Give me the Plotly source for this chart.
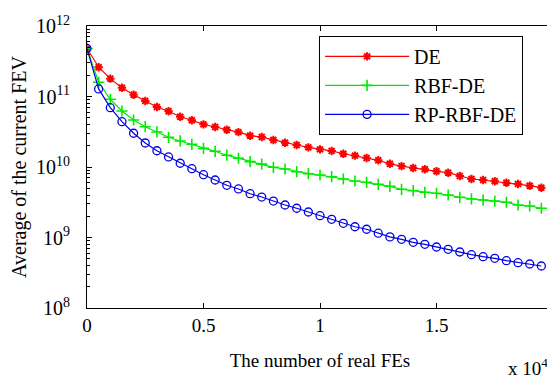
import plotly.graph_objects as go

fes = [i * 500 for i in range(40)]

de = [4.8e11, 2.60e11, 1.79e11, 1.33e11, 1.06e11, 8.63e10, 7.10e10, 6.17e10, 5.17e10, 4.60e10,
      4.03e10, 3.69e10, 3.38e10, 3.12e10, 2.78e10, 2.66e10, 2.42e10, 2.21e10, 2.05e10, 1.90e10,
      1.78e10, 1.69e10, 1.54e10, 1.45e10, 1.34e10, 1.245e10, 1.11e10, 1.03e10, 9.68e9, 9.28e9,
      8.69e9, 8.30e9, 7.45e9, 6.76e9, 6.54e9, 6.27e9, 5.99e9, 5.74e9, 5.43e9, 5.09e9]

rbf_de = [4.8e11, 1.59e11, 9.13e10, 6.23e10, 4.64e10, 3.73e10, 3.14e10, 2.64e10, 2.34e10, 2.10e10,
          1.84e10, 1.67e10, 1.47e10, 1.33e10, 1.19e10, 1.10e10, 9.90e9, 9.37e9, 8.58e9, 8.04e9,
          7.70e9, 7.29e9, 6.76e9, 6.33e9, 6.07e9, 5.68e9, 5.32e9, 4.83e9, 4.61e9, 4.38e9,
          4.24e9, 4.01e9, 3.72e9, 3.52e9, 3.40e9, 3.29e9, 3.16e9, 2.89e9, 2.80e9, 2.60e9]

rp_rbf_de = [4.8e11, 1.28e11, 6.94e10, 4.39e10, 3.01e10, 2.19e10, 1.70e10, 1.39e10, 1.13e10, 9.46e9,
             7.78e9, 6.54e9, 5.50e9, 4.88e9, 4.18e9, 3.75e9, 3.29e9, 2.89e9, 2.60e9, 2.30e9,
             2.04e9, 1.81e9, 1.59e9, 1.42e9, 1.31e9, 1.15e9, 1.02e9, 9.43e8, 8.55e8, 8.01e8,
             7.33e8, 6.80e8, 6.23e8, 5.70e8, 5.34e8, 5.07e8, 4.69e8, 4.39e8, 4.21e8, 3.94e8]

x_tickvals = [0, 5000, 10000, 15000, 20000]
x_ticktext = ["0", "0.5", "1", "1.5", "2"]
y_tickvals = [1e8, 1e9, 1e10, 1e11, 1e12]
y_ticktext = ["10<sup>8</sup>", "10<sup>9</sup>", "10<sup>10</sup>", "10<sup>11</sup>", "10<sup>12</sup>"]
y_minor = [m * 10 ** e for e in range(8, 12) for m in range(2, 10)]

FONT = "Liberation Serif, Times New Roman, serif"

fig = go.Figure()
fig.add_trace(go.Scatter(x=fes, y=de, name="DE", mode="lines+markers",
                         line=dict(color="rgb(255,0,0)", width=1.2),
                         marker=dict(symbol="asterisk-open", size=7,
                                     line=dict(color="rgb(255,0,0)", width=2))))
fig.add_trace(go.Scatter(x=fes, y=rbf_de, name="RBF-DE", mode="lines+markers",
                         line=dict(color="rgb(0,235,0)", width=1.2),
                         marker=dict(symbol="cross-thin-open", size=8,
                                     line=dict(color="rgb(0,235,0)", width=1.6))))
fig.add_trace(go.Scatter(x=fes, y=rp_rbf_de, name="RP-RBF-DE", mode="lines+markers",
                         line=dict(color="rgb(0,0,230)", width=1.2),
                         marker=dict(symbol="circle-open", size=8,
                                     line=dict(color="rgb(0,0,230)", width=1.3))))

# page body has an 8px margin, so the figure is sized/offset to compensate
fig.update_layout(
    width=547, height=370,
    margin=dict(l=79, r=2, t=18, b=70, autoexpand=False),
    paper_bgcolor="white", plot_bgcolor="white",
    font=dict(family=FONT, size=19, color="black"),
    showlegend=True,
    legend=dict(x=0.498, y=0.965, xanchor="left", yanchor="top",
                bgcolor="white", bordercolor="black", borderwidth=1,
                font=dict(family=FONT, size=20), itemwidth=84,
                tracegroupgap=0),
    xaxis=dict(range=[0, 20000], tickmode="array", tickvals=x_tickvals, ticktext=x_ticktext,
               ticks="inside", ticklen=5, tickcolor="black", showline=True, linecolor="black",
               linewidth=1, mirror="ticks", showgrid=False, zeroline=False, automargin=False,
               ticklabeloverflow="allow",
               tickfont=dict(family=FONT, size=19),
               title=dict(text="The number of real FEs", font=dict(family=FONT, size=19), standoff=18)),
    yaxis=dict(type="log", range=[8, 12], tickmode="array", tickvals=y_tickvals, ticktext=y_ticktext,
               ticks="inside", ticklen=5, tickcolor="black", showline=True, linecolor="black",
               linewidth=1, mirror="ticks", showgrid=False, zeroline=False, automargin=False,
               ticklabelstandoff=12, ticklabeloverflow="allow",
               minor=dict(tickmode="array", tickvals=y_minor, ticks="inside", ticklen=3,
                          tickcolor="black", showgrid=False),
               tickfont=dict(family=FONT, size=20),
               title=dict(text="Average of the current FEV", font=dict(family=FONT, size=20), standoff=4)),
    annotations=[dict(text="x 10<sup>4</sup>", xref="paper", yref="paper", x=1.0, y=-0.209,
                      xanchor="right", yanchor="middle", showarrow=False, xshift=-3,
                      font=dict(family=FONT, size=19))],
)

fig.write_html("out.html")
